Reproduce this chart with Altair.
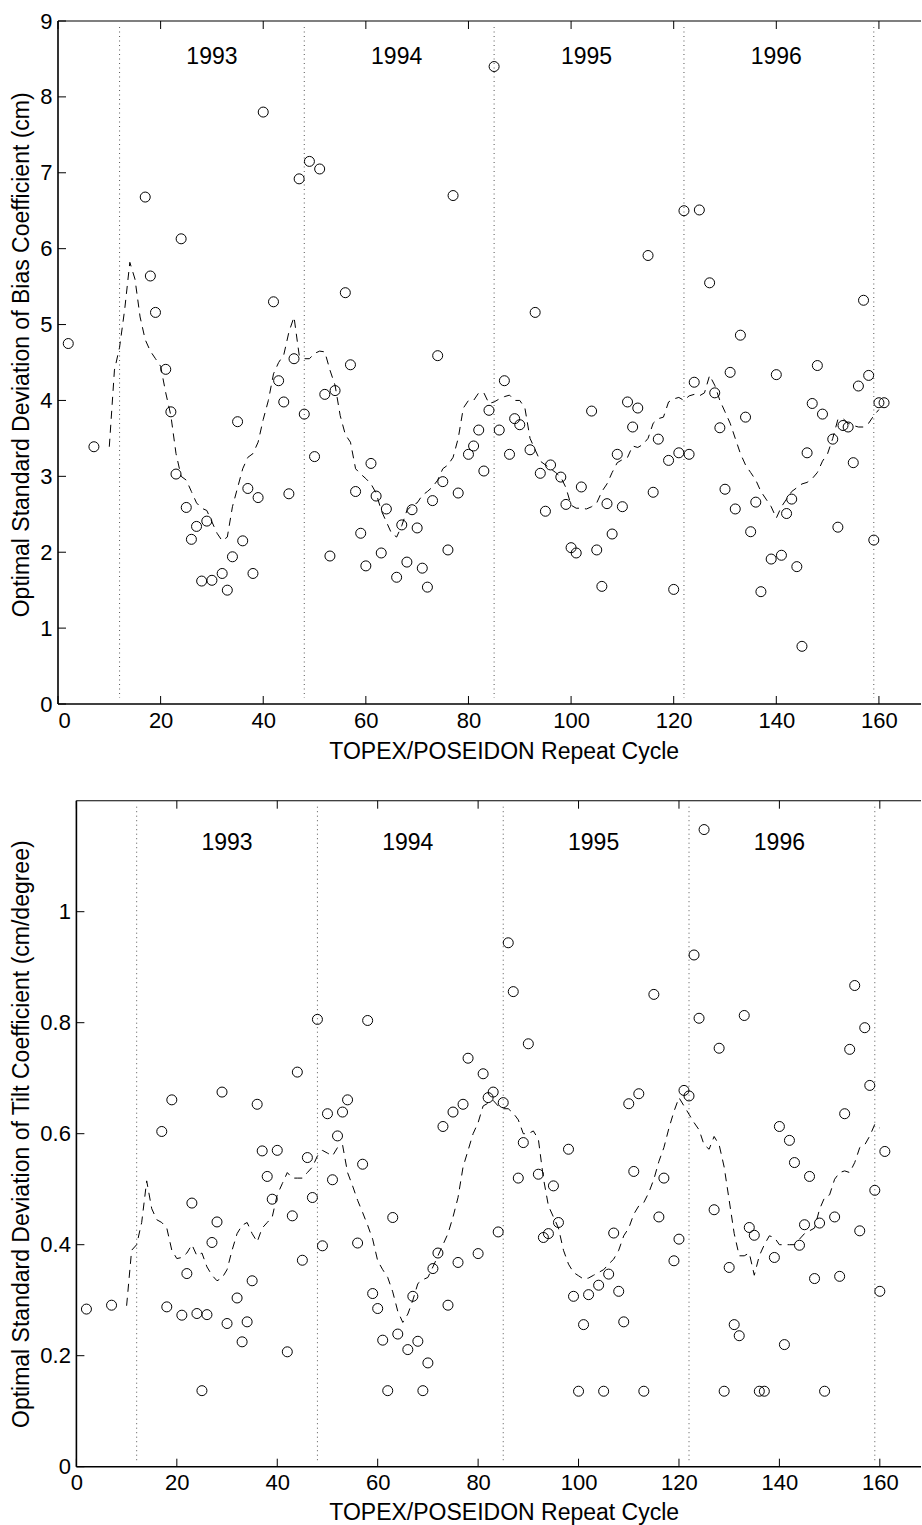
import altair as alt
import pandas as pd

FONT = "Liberation Sans"

# ---------------- data ----------------
cycles = [2, 7, 17, 18, 19, 21, 22, 23, 24, 25, 26, 27, 28, 29, 30,
          32, 33, 34, 35, 36, 37, 38, 39, 40, 42, 43, 44, 45, 46, 47,
          48, 49, 50, 51, 52, 53, 54, 56, 57, 58, 59, 60, 61, 62, 63,
          64, 66, 67, 68, 69, 70, 71, 72, 73, 74, 75, 76, 77, 78, 80,
          81, 82, 83, 84, 85, 86, 87, 88, 89, 90, 92, 93, 94, 95, 96,
          98, 99, 100, 101, 102, 104, 105, 106, 107, 108, 109, 110, 111, 112, 113,
          115, 116, 117, 119, 120, 121, 122, 123, 124, 125, 127, 128, 129, 130, 131,
          132, 133, 134, 135, 136, 137, 139, 140, 141, 142, 143, 144, 145, 146, 147,
          148, 149, 151, 152, 153, 154, 155, 156, 157, 158, 159, 160, 161]

bias_sd = [4.75, 3.39, 6.68, 5.64, 5.16, 4.41, 3.85, 3.03, 6.13, 2.59, 2.17, 2.34, 1.62, 2.41, 1.63,
           1.72, 1.50, 1.94, 3.72, 2.15, 2.84, 1.72, 2.72, 7.80, 5.30, 4.26, 3.98, 2.77, 4.55, 6.92,
           3.82, 7.15, 3.26, 7.05, 4.08, 1.95, 4.13, 5.42, 4.47, 2.80, 2.25, 1.82, 3.17, 2.74, 1.99,
           2.57, 1.67, 2.36, 1.87, 2.56, 2.32, 1.79, 1.54, 2.68, 4.59, 2.93, 2.03, 6.70, 2.78, 3.29,
           3.40, 3.61, 3.07, 3.87, 8.40, 3.61, 4.26, 3.29, 3.76, 3.68, 3.35, 5.16, 3.04, 2.54, 3.15,
           2.99, 2.63, 2.06, 1.99, 2.86, 3.86, 2.03, 1.55, 2.64, 2.24, 3.29, 2.60, 3.98, 3.65, 3.90,
           5.91, 2.79, 3.49, 3.21, 1.51, 3.31, 6.50, 3.29, 4.24, 6.51, 5.55, 4.10, 3.64, 2.83, 4.37,
           2.57, 4.86, 3.78, 2.27, 2.66, 1.48, 1.91, 4.34, 1.96, 2.51, 2.70, 1.81, 0.76, 3.31, 3.96,
           4.46, 3.82, 3.49, 2.33, 3.67, 3.65, 3.18, 4.19, 5.32, 4.33, 2.16, 3.97, 3.97]

tilt_sd = [0.284, 0.291, 0.604, 0.288, 0.661, 0.273, 0.348, 0.475, 0.276, 0.137, 0.274, 0.404, 0.441, 0.675, 0.258,
           0.304, 0.225, 0.261, 0.335, 0.653, 0.569, 0.523, 0.482, 0.570, 0.207, 0.452, 0.711, 0.372, 0.557, 0.485,
           0.806, 0.398, 0.636, 0.517, 0.596, 0.639, 0.661, 0.403, 0.545, 0.804, 0.312, 0.285, 0.228, 0.137, 0.449,
           0.239, 0.211, 0.307, 0.226, 0.137, 0.187, 0.357, 0.385, 0.613, 0.291, 0.639, 0.368, 0.653, 0.736, 0.384,
           0.708, 0.665, 0.675, 0.423, 0.656, 0.944, 0.856, 0.520, 0.584, 0.762, 0.527, 0.413, 0.420, 0.506, 0.440,
           0.572, 0.307, 0.136, 0.256, 0.310, 0.327, 0.136, 0.347, 0.421, 0.316, 0.261, 0.654, 0.532, 0.672, 0.136,
           0.851, 0.450, 0.520, 0.371, 0.410, 0.678, 0.668, 0.922, 0.808, 1.148, 0.463, 0.754, 0.136, 0.359, 0.256,
           0.236, 0.813, 0.431, 0.417, 0.136, 0.136, 0.377, 0.613, 0.220, 0.588, 0.548, 0.399, 0.436, 0.523, 0.339,
           0.439, 0.136, 0.450, 0.343, 0.636, 0.752, 0.867, 0.425, 0.791, 0.687, 0.498, 0.316, 0.568]

# smoothed (dashed) curves
smooth_x = list(range(10, 161))
bias_smooth = [3.39, 4.40, 4.70, 5.20, 5.82, 5.60, 5.10, 4.80, 4.65, 4.55,   # 10-19
               4.45, 4.10, 3.80, 3.30, 3.00, 2.95, 2.80, 2.65, 2.58, 2.55,   # 20-29
               2.40, 2.25, 2.15, 2.20, 2.60, 2.85, 3.10, 3.25, 3.30, 3.45,   # 30-39
               3.75, 4.00, 4.35, 4.50, 4.60, 4.90, 5.10, 4.60, 4.55, 4.55,   # 40-49
               4.62, 4.65, 4.64, 4.40, 4.20, 3.80, 3.55, 3.45, 3.10, 3.03,   # 50-59
               2.97, 2.90, 2.78, 2.55, 2.40, 2.25, 2.20, 2.35, 2.55, 2.62,   # 60-69
               2.65, 2.75, 2.80, 2.86, 2.95, 3.10, 3.15, 3.25, 3.50, 3.90,   # 70-79
               4.00, 4.00, 4.10, 4.10, 3.96, 3.98, 4.02, 4.05, 4.07, 4.00,   # 80-89
               4.00, 3.90, 3.50, 3.35, 3.20, 3.15, 3.10, 3.05, 2.99, 2.85,   # 90-99
               2.62, 2.58, 2.58, 2.57, 2.60, 2.65, 2.80, 2.90, 3.05, 3.18,   # 100-109
               3.22, 3.25, 3.40, 3.38, 3.42, 3.50, 3.70, 3.76, 3.78, 3.98,   # 110-119
               4.02, 4.04, 4.00, 4.06, 4.08, 4.06, 4.10, 4.33, 4.20, 4.00,   # 120-129
               3.85, 3.70, 3.50, 3.30, 3.15, 3.05, 2.95, 2.80, 2.70, 2.60,   # 130-139
               2.45, 2.60, 2.70, 2.80, 2.85, 2.90, 2.92, 2.97, 3.05, 3.20,   # 140-149
               3.30, 3.50, 3.75, 3.76, 3.70, 3.67, 3.65, 3.65, 3.70, 3.80,   # 150-159
               3.88]                                                         # 160
tilt_smooth = [0.290, 0.390, 0.400, 0.440, 0.515, 0.465, 0.445, 0.440, 0.430, 0.390,   # 10-19
               0.375, 0.377, 0.385, 0.400, 0.380, 0.385, 0.360, 0.345, 0.335, 0.340,   # 20-29
               0.355, 0.390, 0.420, 0.435, 0.440, 0.420, 0.405, 0.430, 0.440, 0.450,   # 30-39
               0.490, 0.510, 0.530, 0.520, 0.520, 0.520, 0.530, 0.540, 0.560, 0.570,   # 40-49
               0.565, 0.560, 0.575, 0.580, 0.530, 0.506, 0.480, 0.458, 0.435, 0.410,   # 50-59
               0.371, 0.355, 0.341, 0.315, 0.280, 0.260, 0.275, 0.300, 0.330, 0.337,   # 60-69
               0.341, 0.360, 0.380, 0.400, 0.420, 0.450, 0.485, 0.540, 0.570, 0.600,   # 70-79
               0.620, 0.650, 0.655, 0.660, 0.650, 0.645, 0.645, 0.637, 0.625, 0.600,   # 80-89
               0.600, 0.605, 0.590, 0.520, 0.470, 0.450, 0.430, 0.390, 0.365, 0.350,   # 90-99
               0.344, 0.338, 0.340, 0.345, 0.350, 0.355, 0.365, 0.374, 0.390, 0.416,   # 100-109
               0.430, 0.455, 0.470, 0.476, 0.494, 0.518, 0.550, 0.575, 0.610, 0.640,   # 110-119
               0.665, 0.650, 0.635, 0.620, 0.607, 0.580, 0.572, 0.595, 0.580, 0.540,   # 120-129
               0.480, 0.420, 0.380, 0.380, 0.385, 0.345, 0.380, 0.400, 0.416, 0.413,   # 130-139
               0.400, 0.400, 0.400, 0.400, 0.410, 0.420, 0.425, 0.430, 0.464, 0.485,   # 140-149
               0.490, 0.518, 0.530, 0.533, 0.530, 0.548, 0.575, 0.580, 0.596, 0.617,   # 150-159
               0.610]                                                                   # 160

year_bounds = [12, 48, 85, 122, 159]
year_labels = ["1993", "1994", "1995", "1996"]
year_label_x = [30, 66, 103, 140]
bias_label_y = 8.52
tilt_label_y = 1.124

x_ticks = [0, 20, 40, 60, 80, 100, 120, 140, 160]
bias_y_ticks = [0, 1, 2, 3, 4, 5, 6, 7, 8, 9]
tilt_y_ticks = [0, 0.2, 0.4, 0.6, 0.8, 1.0]

X_MAX = 168.2
X_TITLE = "TOPEX/POSEIDON Repeat Cycle"
PLOT_W = 863
TICK = 8


def panel(values, smooth, y_max, y_ticks, y_title, label_y, y_fmt,
          x_min, height, axis_shift, title_x, title_y, xtitle_y):
    px_per_x = PLOT_W / (X_MAX - x_min)
    pts = pd.DataFrame({"x": cycles, "y": values})
    line = pd.DataFrame({"x": smooth_x, "y": smooth})
    years = pd.DataFrame({"x": year_label_x, "y": [label_y] * 4, "label": year_labels})
    bounds = pd.DataFrame({"x": year_bounds})
    xt = pd.DataFrame({"x": x_ticks})
    yt = pd.DataFrame({"y": y_ticks, "x": [0] * len(y_ticks),
                       "x2": [TICK / px_per_x] * len(y_ticks)})
    hspines = pd.DataFrame({"x": [0, 0], "x2": [X_MAX, X_MAX], "y": [0, y_max],
                            "w": [1.6, 1.1]})
    vspine = pd.DataFrame({"x": [0], "y": [0], "y2": [y_max]})

    xscale = alt.Scale(domain=[x_min, X_MAX], nice=False, zero=False)
    yscale = alt.Scale(domain=[0, y_max], nice=False, zero=False)
    xaxis = alt.Axis(values=x_ticks, format="d", ticks=False, tickSize=0, grid=False,
                     domain=False, labelPadding=6,
                     titleX=445.7, titleY=xtitle_y, titleBaseline="alphabetic", titleAlign="center")
    yaxis = alt.Axis(values=y_ticks, format=y_fmt, ticks=False, tickSize=0, grid=False,
                     domain=False, labelPadding=6, offset=-axis_shift,
                     titleX=title_x, titleY=title_y, titleBaseline="middle", titleAngle=270)
    X = alt.X("x:Q", scale=xscale, axis=xaxis, title=X_TITLE)
    Y = alt.Y("y:Q", scale=yscale, axis=yaxis, title=y_title)

    dotted = alt.Chart(bounds).mark_rule(color="#555555", strokeDash=[1, 3.5], strokeWidth=1).encode(
        x=X, y=alt.value(6), y2=alt.value(height - 6))
    dashed = alt.Chart(line).mark_line(color="black", strokeDash=[8, 6], strokeWidth=1).encode(x=X, y=Y)
    circles = alt.Chart(pts).mark_point(shape="circle", filled=False, size=100, color="black",
                                        strokeWidth=1, opacity=1).encode(x=X, y=Y)
    text = alt.Chart(years).mark_text(fontSize=23, font=FONT, align="center", baseline="middle",
                                      color="black").encode(x=X, y=Y, text="label:N")
    tick_top = alt.Chart(xt).mark_rule(color="black", strokeWidth=1).encode(
        x=X, y=alt.value(0), y2=alt.value(TICK))
    tick_bot = alt.Chart(xt).mark_rule(color="black", strokeWidth=1).encode(
        x=X, y=alt.value(height), y2=alt.value(height - TICK))
    tick_left = alt.Chart(yt).mark_rule(color="black", strokeWidth=1).encode(
        y=Y, x=X, x2="x2:Q")
    hsp = alt.Chart(hspines).mark_rule(color="black").encode(
        x=X, x2="x2:Q", y=Y, strokeWidth=alt.StrokeWidth("w:Q", scale=None, legend=None))
    vsp = alt.Chart(vspine).mark_rule(color="black", strokeWidth=1.6).encode(
        x=X, y=Y, y2="y2:Q")
    return alt.layer(dotted, dashed, circles, text, tick_top, tick_bot, tick_left, hsp, vsp).properties(
        width=PLOT_W, height=height)


top = panel(bias_sd, bias_smooth, 9, bias_y_ticks,
            "Optimal Standard Deviation of Bias Coefficient (cm)", bias_label_y, "d",
            0, 683, 0, -36.3, 333.3, 54.8)
bottom = panel(tilt_sd, tilt_smooth, 1.2, tilt_y_ticks,
               "Optimal Standard Deviation of Tilt Coefficient (cm/degree)", tilt_label_y, ".1~f",
               -18.4 / 5.021, 666, 18.4, -54.7, 333.0, 52.8)

chart = alt.vconcat(top, bottom, spacing=35.7).properties(
    padding={"left": 10, "top": 10, "right": 0, "bottom": 0},
    background="white",
).configure_view(stroke=None).configure_axis(
    labelFont=FONT, labelFontSize=22, labelColor="black",
    titleFont=FONT, titleFontSize=23, titleFontWeight="normal", titleColor="black",
)

chart.save("out.html", embed_options={"renderer": "svg", "actions": False})
